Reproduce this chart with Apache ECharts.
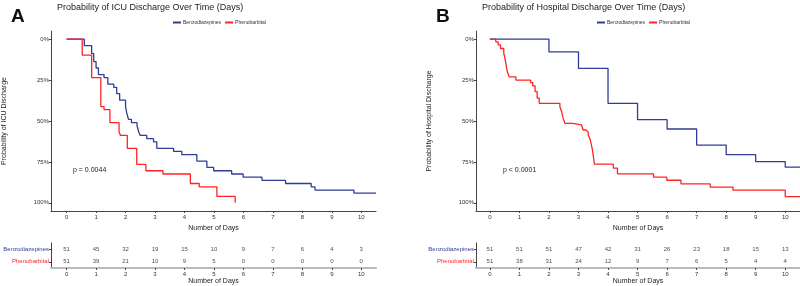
<!DOCTYPE html>
<html>
<head>
<meta charset="utf-8">
<script src="https://cdn.jsdelivr.net/npm/echarts@6/dist/echarts.min.js"></script>
<style>
  html, body { margin: 0; padding: 0; background: #fff; }
  #chart { width: 800px; height: 286px; }
</style>
</head>
<body>
<div id="chart"></div>
<script>
const dayTicks = [0, 1, 2, 3, 4, 5, 6, 7, 8, 9, 10]
const pctTicks = [0, 25, 50, 75, 100]
const groups = ['Benzodiazepines', 'Phenobarbital']

// ICU discharge (panel A), cumulative % discharged
const icuBenzoDays = [0, 0.6, 0.85, 0.92, 1.0, 1.08, 1.27, 1.4, 1.6, 1.7, 1.8, 2.0, 2.04, 2.1, 2.2, 2.39, 2.45, 2.5, 2.72, 2.95, 3.06, 3.63, 3.91, 4.42, 4.76, 4.99, 5.6, 5.99, 6.63, 7.43, 8.3, 8.43, 9.75, 10.5]
const icuBenzoPct = [0, 3.9, 8.8, 13.7, 17.6, 21.6, 23.5, 27.5, 29.4, 33.3, 37.3, 41.2, 45.1, 49, 51, 52.9, 56.9, 58.8, 60.8, 62.7, 66.7, 68.6, 70.6, 74.5, 78.4, 80.4, 82.4, 84.3, 86.3, 88.2, 90.2, 92.2, 94.1, 94.1]
const icuPhenoDays = [0, 0.53, 0.85, 1.16, 1.27, 1.47, 1.78, 1.83, 2.06, 2.38, 2.69, 3.27, 4.2, 4.5, 5.1, 5.72]
const icuPhenoPct = [0, 9.8, 23.5, 41.2, 43.1, 51, 56.9, 58.8, 66.7, 76.5, 80.4, 82.4, 88.2, 90.2, 96.1, 100]

// Hospital discharge (panel B)
const hospBenzoDays = [0, 2, 3, 4, 5, 6, 7, 8, 9, 10, 10.5]
const hospBenzoPct = [0, 7.8, 17.9, 39.2, 49.2, 54.9, 64.7, 70.6, 74.8, 78.2, 78.2]
const hospPhenoDays = [0, 0.2, 0.28, 0.36, 0.47, 0.51, 0.54, 0.59, 0.65, 0.88, 1.38, 1.45, 1.53, 1.6, 1.67, 2.37, 2.43, 2.48, 2.54, 2.8, 3.1, 3.16, 3.25, 3.33, 3.39, 3.42, 3.47, 3.5, 3.54, 4.18, 4.32, 5.54, 5.99, 6.47, 7.46, 8.23, 10, 10.5]
const hospPhenoPct = [0, 1.6, 3.5, 5.7, 8.4, 11.8, 14.8, 19.9, 23, 25, 26.5, 28.5, 32, 36, 39.2, 41.3, 44.3, 48.4, 51.4, 52.4, 53.5, 55.5, 56.7, 58.5, 61, 63.2, 67.3, 71.3, 76.4, 78.8, 82.3, 84.3, 86.2, 88.4, 90.4, 92.3, 96.2, 96.2]

// number at risk
const icuBenzoRisk = [51, 45, 32, 19, 15, 10, 9, 7, 6, 4, 3]
const icuPhenoRisk = [51, 39, 21, 10, 9, 5, 0, 0, 0, 0, 0]
const hospBenzoRisk = [51, 51, 51, 47, 42, 31, 26, 23, 18, 15, 13]
const hospPhenoRisk = [51, 38, 31, 24, 12, 9, 7, 6, 5, 4, 4]

const BLUE = '#2f3d98'
const RED = '#ff2323'
const FONT = 'Liberation Sans'

const zip = (xs, ys) => xs.map((x, i) => [x, ys[i]])
const riskRows = (benzo, pheno) =>
  dayTicks.map((d, i) => [d, groups[0], benzo[i]])
    .concat(dayTicks.map((d, i) => [d, groups[1], pheno[i]]))

const panels = [
  { left: 51, right: 424, letter: 'A', title: 'Probability of ICU Discharge Over Time (Days)', yName: 'Probability of ICU Discharge', xMin: -0.53, pText: 'p = 0.0044', pLeft: 73, legendLeft: 168 },
  { left: 476, right: 0, letter: 'B', title: 'Probability of Hospital Discharge Over Time (Days)', yName: 'Probability of Hospital Discharge', xMin: -0.47, pText: 'p < 0.0001', pLeft: 503, legendLeft: 592 }
]

const grids = []
const xAxes = []
const yAxes = []
panels.forEach(p => {
  grids.push({ left: p.left, right: p.right, top: 31, height: 180 })
  grids.push({ left: p.left, right: p.right, top: 243, height: 27 })
})

const xAxisBase = (gridIndex, xMin, lineStyle) => ({
  type: 'value', gridIndex, min: xMin, max: 10.5,
  name: 'Number of Days', nameLocation: 'middle', nameGap: 11,
  nameTextStyle: { fontSize: 7, color: '#222', fontFamily: FONT },
  axisLine: { show: true, onZero: false, lineStyle },
  axisTick: { show: true, length: 2, customValues: dayTicks, lineStyle: { color: '#444' } },
  axisLabel: { customValues: dayTicks, fontSize: 6, margin: 3, color: '#333', fontFamily: FONT },
  splitLine: { show: false }
})

panels.forEach((p, i) => {
  xAxes.push(xAxisBase(i * 2, p.xMin, { color: '#444', width: 1 }))
  xAxes.push(Object.assign(xAxisBase(i * 2 + 1, p.xMin, { color: '#bbb', width: 2 }), { nameGap: 10 }))
  yAxes.push({
    type: 'value', gridIndex: i * 2, min: -5, max: 105, inverse: true,
    name: p.yName, nameLocation: 'middle', nameRotate: 90, nameGap: 43,
    nameTextStyle: { fontSize: 7, color: '#222', fontFamily: FONT },
    axisLine: { show: true, onZero: false, lineStyle: { color: '#444' } },
    axisTick: { show: true, length: 2, customValues: pctTicks, lineStyle: { color: '#444' } },
    axisLabel: { customValues: pctTicks, fontSize: 6, margin: 2, color: '#333', fontFamily: FONT, formatter: v => v + '%' },
    splitLine: { show: false }
  })
  yAxes.push({
    type: 'category', gridIndex: i * 2 + 1, data: groups, inverse: true,
    axisLine: { show: true, onZero: false, lineStyle: { color: '#444' } },
    axisTick: { show: true, length: 2, alignWithLabel: true, lineStyle: { color: '#444' } },
    axisLabel: { fontSize: 6, margin: 2, fontFamily: FONT, color: (v) => v === groups[0] ? BLUE : RED }
  })
})

const lineSeries = (name, idx, data, color) => ({
  name, type: 'line', step: 'end', xAxisIndex: idx, yAxisIndex: idx,
  data, showSymbol: false, symbol: 'none', silent: true,
  lineStyle: { color, width: 1.3 }, itemStyle: { color }
})

const riskSeries = (idx, rows) => ({
  type: 'scatter', xAxisIndex: idx, yAxisIndex: idx, data: rows,
  symbolSize: 0, silent: true,
  label: { show: true, position: 'inside', fontSize: 6, color: '#222', fontFamily: FONT, formatter: q => q.value[2] }
})

const option = {
  animation: false,
  textStyle: { fontFamily: FONT },
  title: panels.flatMap(p => [
    { text: p.letter, left: p.left - 45, top: 2, textStyle: { fontSize: 19, fontWeight: 'bold', color: '#111', fontFamily: FONT } },
    { text: p.title, left: p.left + 1, top: -2, textStyle: { fontSize: 9, fontWeight: 'normal', color: '#222', fontFamily: FONT } }
  ]),
  legend: panels.map(p => ({
    data: groups, left: p.legendLeft, top: 15, itemWidth: 8, itemHeight: 2, itemGap: 4,
    icon: 'rect', selectedMode: false,
    textStyle: { fontSize: 5, color: '#333', fontFamily: FONT, padding: [0, 0, 0, -3] }
  })),
  grid: grids,
  xAxis: xAxes,
  yAxis: yAxes,
  graphic: panels.map(p => ({
    type: 'text', left: p.pLeft, top: 167,
    style: { text: p.pText, fontSize: 7, fill: '#222', fontFamily: FONT }
  })),
  series: [
    lineSeries(groups[0], 0, zip(icuBenzoDays, icuBenzoPct), BLUE),
    lineSeries(groups[1], 0, zip(icuPhenoDays, icuPhenoPct), RED),
    riskSeries(1, riskRows(icuBenzoRisk, icuPhenoRisk)),
    lineSeries(groups[0], 2, zip(hospBenzoDays, hospBenzoPct), BLUE),
    lineSeries(groups[1], 2, zip(hospPhenoDays, hospPhenoPct), RED),
    riskSeries(3, riskRows(hospBenzoRisk, hospPhenoRisk))
  ]
}

const chart = echarts.init(document.getElementById('chart'), null, { renderer: 'canvas' })
chart.setOption(option)
</script>
</body>
</html>
